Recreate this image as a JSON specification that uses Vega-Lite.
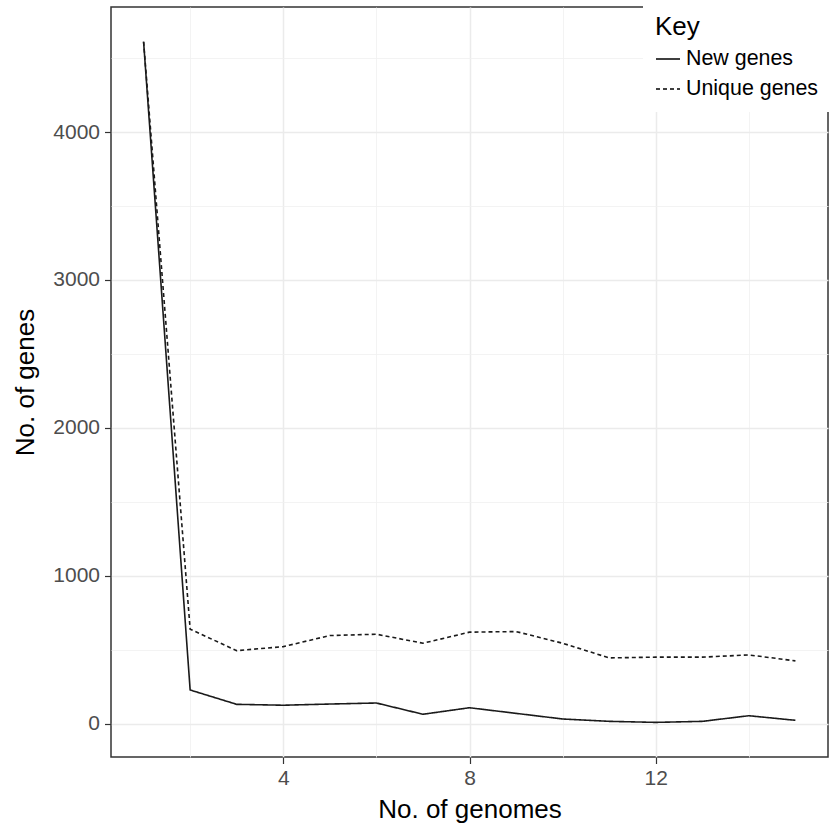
{
  "$schema": "https://vega.github.io/schema/vega-lite/v6.json",
  "width": 717,
  "height": 750,
  "autosize": {"type": "none"},
  "padding": {"left": 111, "top": 7, "right": 5, "bottom": 70},
  "background": "white",
  "config": {
    "font": "Liberation Sans",
    "view": {"stroke": "#333333", "strokeWidth": 1.5},
    "axis": {
      "domain": false,
      "labelFont": "Liberation Sans",
      "titleFont": "Liberation Sans",
      "labelFontSize": 21,
      "titleFontSize": 26,
      "titleFontWeight": "normal",
      "labelColor": "#4D4D4D",
      "titleColor": "black",
      "tickSize": 6.5,
      "tickWidth": 1.2
    },
    "legend": {
      "labelFont": "Liberation Sans",
      "titleFont": "Liberation Sans"
    }
  },
  "data": {
    "values": [
      {"genomes": 1, "genes": 4610, "type": "New genes"},
      {"genomes": 2, "genes": 228, "type": "New genes"},
      {"genomes": 3, "genes": 131, "type": "New genes"},
      {"genomes": 4, "genes": 125, "type": "New genes"},
      {"genomes": 5, "genes": 133, "type": "New genes"},
      {"genomes": 6, "genes": 140, "type": "New genes"},
      {"genomes": 7, "genes": 64, "type": "New genes"},
      {"genomes": 8, "genes": 108, "type": "New genes"},
      {"genomes": 9, "genes": 70, "type": "New genes"},
      {"genomes": 10, "genes": 32, "type": "New genes"},
      {"genomes": 11, "genes": 16, "type": "New genes"},
      {"genomes": 12, "genes": 9, "type": "New genes"},
      {"genomes": 13, "genes": 16, "type": "New genes"},
      {"genomes": 14, "genes": 54, "type": "New genes"},
      {"genomes": 15, "genes": 23, "type": "New genes"},
      {"genomes": 1, "genes": 4610, "type": "Unique genes"},
      {"genomes": 2, "genes": 639, "type": "Unique genes"},
      {"genomes": 3, "genes": 494, "type": "Unique genes"},
      {"genomes": 4, "genes": 521, "type": "Unique genes"},
      {"genomes": 5, "genes": 596, "type": "Unique genes"},
      {"genomes": 6, "genes": 605, "type": "Unique genes"},
      {"genomes": 7, "genes": 544, "type": "Unique genes"},
      {"genomes": 8, "genes": 619, "type": "Unique genes"},
      {"genomes": 9, "genes": 623, "type": "Unique genes"},
      {"genomes": 10, "genes": 544, "type": "Unique genes"},
      {"genomes": 11, "genes": 445, "type": "Unique genes"},
      {"genomes": 12, "genes": 450, "type": "Unique genes"},
      {"genomes": 13, "genes": 450, "type": "Unique genes"},
      {"genomes": 14, "genes": 465, "type": "Unique genes"},
      {"genomes": 15, "genes": 425, "type": "Unique genes"}
    ]
  },
  "mark": {"type": "line", "color": "#1a1a1a", "strokeWidth": 1.6},
  "encoding": {
    "x": {
      "field": "genomes",
      "type": "quantitative",
      "scale": {"domain": [0.3, 15.7], "nice": false, "zero": false},
      "axis": {
        "title": "No. of genomes",
        "values": [2, 4, 6, 8, 10, 12, 14],
        "labelExpr": "datum.value % 4 == 0 ? datum.label : ''",
        "tickColor": {"condition": {"test": "datum.value % 4 != 0", "value": "transparent"}, "value": "#333333"},
        "gridColor": {"condition": {"test": "datum.value % 4 != 0", "value": "#F0F0F0"}, "value": "#EBEBEB"},
        "gridWidth": {"condition": {"test": "datum.value % 4 != 0", "value": 0.8}, "value": 1.5},
        "labelPadding": 4,
        "titlePadding": 8
      }
    },
    "y": {
      "field": "genes",
      "type": "quantitative",
      "scale": {"domain": [-225, 4845], "nice": false, "zero": false},
      "axis": {
        "title": "No. of genes",
        "values": [0, 500, 1000, 1500, 2000, 2500, 3000, 3500, 4000, 4500],
        "labelExpr": "datum.value % 1000 == 0 ? datum.value : ''",
        "tickColor": {"condition": {"test": "datum.value % 1000 != 0", "value": "transparent"}, "value": "#333333"},
        "gridColor": {"condition": {"test": "datum.value % 1000 != 0", "value": "#F0F0F0"}, "value": "#EBEBEB"},
        "gridWidth": {"condition": {"test": "datum.value % 1000 != 0", "value": 0.8}, "value": 1.5},
        "labelPadding": 5,
        "titlePadding": 14
      }
    },
    "strokeDash": {
      "field": "type",
      "type": "nominal",
      "scale": {"domain": ["New genes", "Unique genes"], "range": [[1, 0], [4, 3]]},
      "legend": {
        "title": "Key",
        "orient": "none",
        "legendX": 532,
        "legendY": -5,
        "fillColor": "white",
        "padding": 12,
        "titleFontSize": 26,
        "titleFontWeight": "normal",
        "titleColor": "black",
        "titlePadding": 6,
        "labelFontSize": 21.4,
        "labelColor": "black",
        "labelOffset": 5,
        "symbolType": "stroke",
        "symbolSize": 576,
        "symbolStrokeWidth": 1.6,
        "symbolStrokeColor": "black",
        "rowPadding": 6
      }
    }
  }
}
